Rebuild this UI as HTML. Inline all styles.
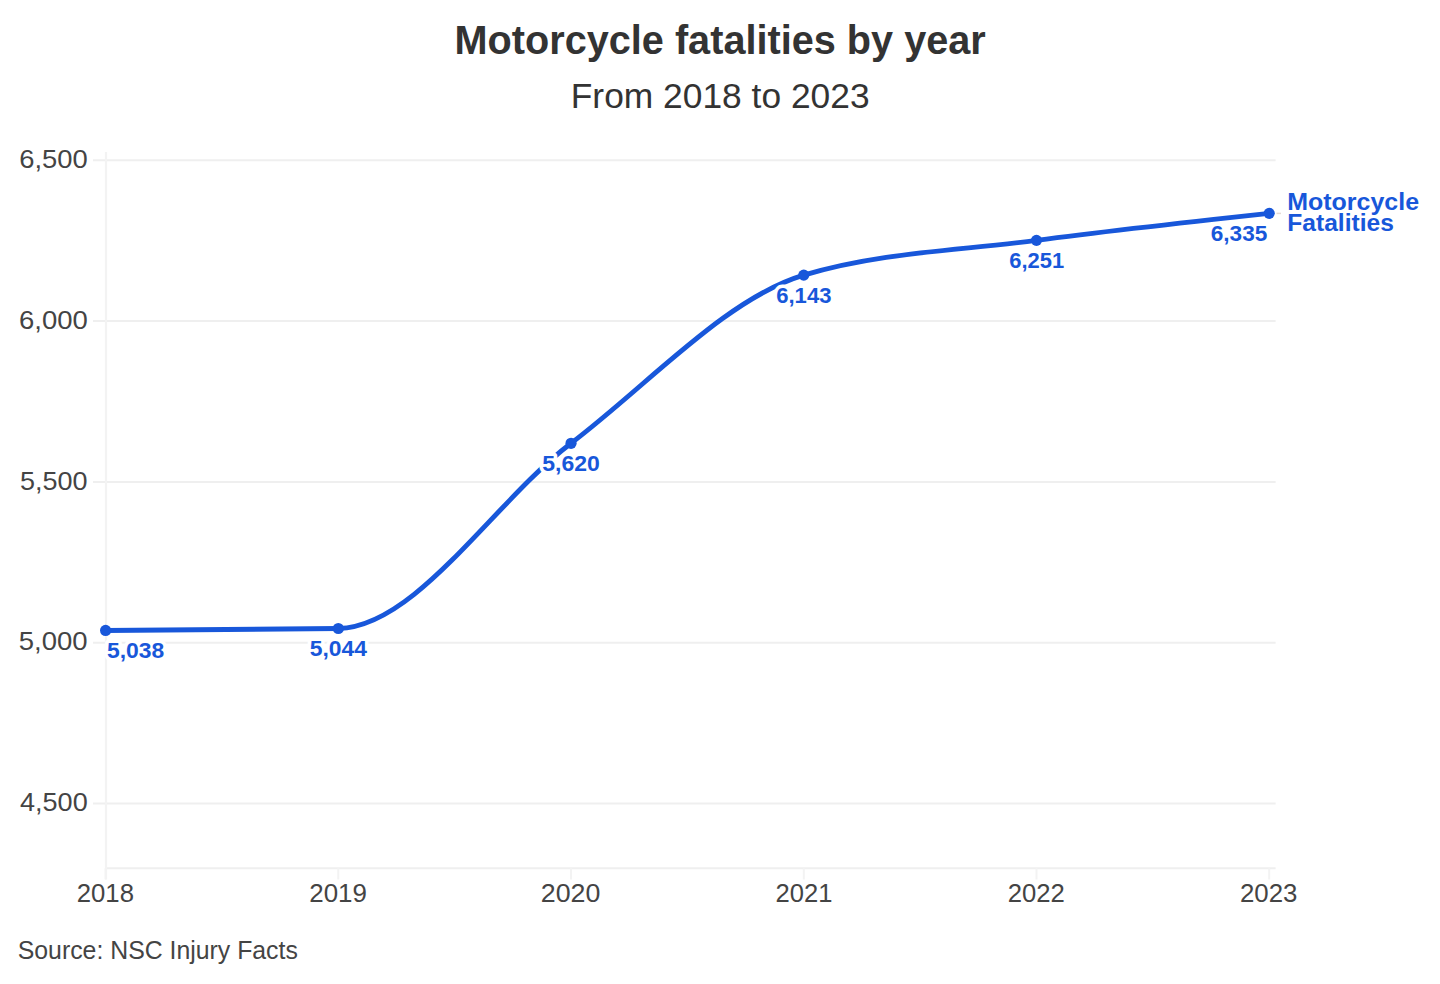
<!DOCTYPE html><html><head><meta charset="utf-8"><title>Motorcycle fatalities by year</title><style>
html,body{margin:0;padding:0;background:#fff;}body{width:1440px;height:984px;overflow:hidden;position:relative;}
svg{position:absolute;left:0;top:0;display:block;}
text{font-family:"Liberation Sans",Arial,sans-serif;}
.h{stroke:#fff;stroke-width:7px;stroke-linejoin:round;paint-order:stroke fill;}
</style></head><body>
<svg width="1440" height="984" viewBox="0 0 1440 984">
<line x1="93" x2="1275.6" y1="160.3" y2="160.3" stroke="#efefef" stroke-width="2"/>
<line x1="93" x2="1275.6" y1="321.1" y2="321.1" stroke="#efefef" stroke-width="2"/>
<line x1="93" x2="1275.6" y1="481.9" y2="481.9" stroke="#efefef" stroke-width="2"/>
<line x1="93" x2="1275.6" y1="642.7" y2="642.7" stroke="#efefef" stroke-width="2"/>
<line x1="93" x2="1275.6" y1="803.5" y2="803.5" stroke="#efefef" stroke-width="2"/>
<line x1="105.6" x2="1275.6" y1="868.2" y2="868.2" stroke="#efefef" stroke-width="2"/>
<line x1="106" x2="106" y1="152" y2="879.5" stroke="#f3f3f3" stroke-width="2.2"/>
<line x1="105.6" x2="105.6" y1="868.2" y2="879.5" stroke="#f3f3f3" stroke-width="2"/>
<line x1="338.3" x2="338.3" y1="868.2" y2="879.5" stroke="#f3f3f3" stroke-width="2"/>
<line x1="571.0" x2="571.0" y1="868.2" y2="879.5" stroke="#f3f3f3" stroke-width="2"/>
<line x1="803.8" x2="803.8" y1="868.2" y2="879.5" stroke="#f3f3f3" stroke-width="2"/>
<line x1="1036.5" x2="1036.5" y1="868.2" y2="879.5" stroke="#f3f3f3" stroke-width="2"/>
<line x1="1269.2" x2="1269.2" y1="868.2" y2="879.5" stroke="#f3f3f3" stroke-width="2"/>
<line x1="1276.5" x2="1281" y1="213.4" y2="213.4" stroke="#e4dad4" stroke-width="1.5"/>
<path d="M105.60,630.44 C183.17,630.12 260.75,629.80 338.32,628.51 C415.89,627.23 493.47,502.19 571.04,443.29 C648.61,384.38 726.19,298.26 803.76,275.10 C881.33,251.95 958.91,250.66 1036.48,240.37 C1114.05,230.08 1191.63,221.72 1269.20,213.36" fill="none" stroke="#1857da" stroke-width="4.9" stroke-linecap="round" stroke-linejoin="round"/>
<circle cx="105.60" cy="630.44" r="5.6" fill="#1857da"/>
<circle cx="338.32" cy="628.51" r="5.6" fill="#1857da"/>
<circle cx="571.04" cy="443.29" r="5.6" fill="#1857da"/>
<circle cx="803.76" cy="275.10" r="5.6" fill="#1857da"/>
<circle cx="1036.48" cy="240.37" r="5.6" fill="#1857da"/>
<circle cx="1269.20" cy="213.36" r="5.6" fill="#1857da"/>
<text id="title" x="454.50" y="54.30" textLength="531.25" lengthAdjust="spacingAndGlyphs" style="font-size:40px;font-weight:bold;fill:#333">Motorcycle fatalities by year</text>
<text id="sub" x="570.75" y="108.40" textLength="298.89" lengthAdjust="spacingAndGlyphs" style="font-size:34.6px;font-weight:normal;fill:#333">From 2018 to 2023</text>
<text id="y6500" x="19.25" y="168.10" textLength="68.52" lengthAdjust="spacingAndGlyphs" style="font-size:25.3px;font-weight:normal;fill:#444">6,500</text>
<text id="y6000" x="19.00" y="328.89" textLength="68.81" lengthAdjust="spacingAndGlyphs" style="font-size:25.3px;font-weight:normal;fill:#444">6,000</text>
<text id="y5500" x="20.00" y="489.68" textLength="67.60" lengthAdjust="spacingAndGlyphs" style="font-size:25.3px;font-weight:normal;fill:#444">5,500</text>
<text id="y5000" x="18.75" y="650.46" textLength="68.89" lengthAdjust="spacingAndGlyphs" style="font-size:25.3px;font-weight:normal;fill:#444">5,000</text>
<text id="y4500" x="20.00" y="811.25" textLength="67.69" lengthAdjust="spacingAndGlyphs" style="font-size:25.3px;font-weight:normal;fill:#444">4,500</text>
<text id="x2018" x="76.75" y="901.80" textLength="57.22" lengthAdjust="spacingAndGlyphs" style="font-size:25.3px;font-weight:normal;fill:#444">2018</text>
<text id="x2019" x="309.25" y="901.80" textLength="57.64" lengthAdjust="spacingAndGlyphs" style="font-size:25.3px;font-weight:normal;fill:#444">2019</text>
<text id="x2020" x="540.75" y="901.80" textLength="59.58" lengthAdjust="spacingAndGlyphs" style="font-size:25.3px;font-weight:normal;fill:#444">2020</text>
<text id="x2021" x="775.50" y="901.80" textLength="56.86" lengthAdjust="spacingAndGlyphs" style="font-size:25.3px;font-weight:normal;fill:#444">2021</text>
<text id="x2022" x="1007.75" y="901.80" textLength="57.12" lengthAdjust="spacingAndGlyphs" style="font-size:25.3px;font-weight:normal;fill:#444">2022</text>
<text id="x2023" x="1240.00" y="901.80" textLength="57.43" lengthAdjust="spacingAndGlyphs" style="font-size:25.3px;font-weight:normal;fill:#444">2023</text>
<text id="src" x="17.75" y="958.70" textLength="280.10" lengthAdjust="spacingAndGlyphs" style="font-size:25.3px;font-weight:normal;fill:#444">Source: NSC Injury Facts</text>
<text id="v5038" x="107.00" y="657.84" textLength="57.29" lengthAdjust="spacingAndGlyphs" class="h" style="font-size:22.3px;font-weight:bold;fill:#1857da">5,038</text>
<text id="v5044" x="309.75" y="655.91" textLength="57.17" lengthAdjust="spacingAndGlyphs" class="h" style="font-size:22.3px;font-weight:bold;fill:#1857da">5,044</text>
<text id="v5620" x="542.25" y="470.69" textLength="57.55" lengthAdjust="spacingAndGlyphs" class="h" style="font-size:22.3px;font-weight:bold;fill:#1857da">5,620</text>
<text id="v6143" x="776.25" y="302.50" textLength="55.13" lengthAdjust="spacingAndGlyphs" class="h" style="font-size:22.3px;font-weight:bold;fill:#1857da">6,143</text>
<text id="v6251" x="1009.25" y="267.77" textLength="54.88" lengthAdjust="spacingAndGlyphs" class="h" style="font-size:22.3px;font-weight:bold;fill:#1857da">6,251</text>
<text id="v6335" x="1210.75" y="240.76" textLength="56.57" lengthAdjust="spacingAndGlyphs" class="h" style="font-size:22.3px;font-weight:bold;fill:#1857da">6,335</text>
<text id="m1" x="1287.25" y="209.50" textLength="131.84" lengthAdjust="spacingAndGlyphs" style="font-size:23.5px;font-weight:bold;fill:#1857da">Motorcycle</text>
<text id="m2" x="1287.25" y="231.30" textLength="106.60" lengthAdjust="spacingAndGlyphs" style="font-size:23.5px;font-weight:bold;fill:#1857da">Fatalities</text>
</svg></body></html>
